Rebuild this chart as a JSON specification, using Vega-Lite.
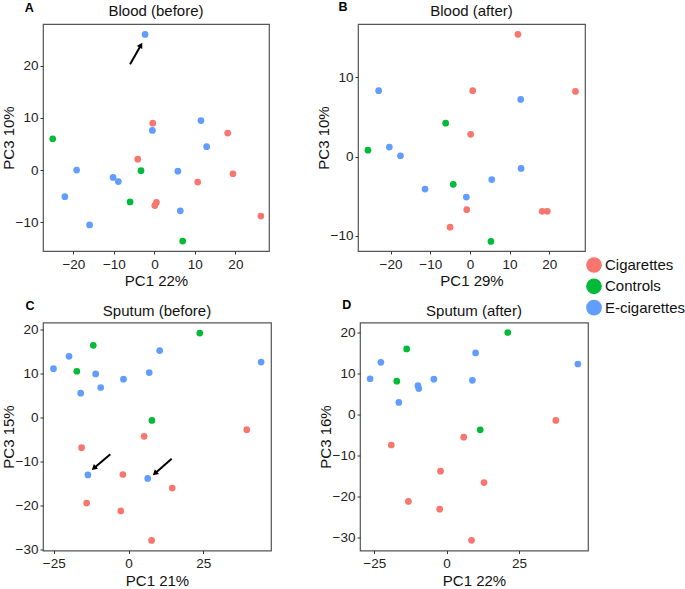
{
  "$schema": "https://vega.github.io/schema/vega-lite/v6.json",
  "padding": {"left": 0, "top": 0, "right": 0, "bottom": 0},
  "background": "white",
  "datasets": {
    "A": [
      {"pc1": -2.3, "pc3": 26.0, "group": "E-cigarettes"},
      {"pc1": 11.5, "pc3": 9.5, "group": "E-cigarettes"},
      {"pc1": -0.5, "pc3": 7.6, "group": "E-cigarettes"},
      {"pc1": 12.9, "pc3": 4.5, "group": "E-cigarettes"},
      {"pc1": -19.2, "pc3": 0.0, "group": "E-cigarettes"},
      {"pc1": -10.2, "pc3": -1.4, "group": "E-cigarettes"},
      {"pc1": -8.9, "pc3": -2.2, "group": "E-cigarettes"},
      {"pc1": 5.8, "pc3": -0.2, "group": "E-cigarettes"},
      {"pc1": -22.1, "pc3": -5.1, "group": "E-cigarettes"},
      {"pc1": 6.4, "pc3": -7.8, "group": "E-cigarettes"},
      {"pc1": -16.0, "pc3": -10.5, "group": "E-cigarettes"},
      {"pc1": -0.4, "pc3": 9.0, "group": "Cigarettes"},
      {"pc1": 18.1, "pc3": 7.1, "group": "Cigarettes"},
      {"pc1": -4.1, "pc3": 2.1, "group": "Cigarettes"},
      {"pc1": 10.7, "pc3": -2.3, "group": "Cigarettes"},
      {"pc1": 19.4, "pc3": -0.7, "group": "Cigarettes"},
      {"pc1": 0.5, "pc3": -6.2, "group": "Cigarettes"},
      {"pc1": 0.1, "pc3": -6.8, "group": "Cigarettes"},
      {"pc1": 26.3, "pc3": -8.8, "group": "Cigarettes"},
      {"pc1": -25.1, "pc3": 6.0, "group": "Controls"},
      {"pc1": -3.3, "pc3": -0.1, "group": "Controls"},
      {"pc1": -6.0, "pc3": -6.1, "group": "Controls"},
      {"pc1": 7.0, "pc3": -13.6, "group": "Controls"}
    ],
    "B": [
      {"pc1": 12.1, "pc3": 15.4, "group": "Cigarettes"},
      {"pc1": 0.7, "pc3": 8.3, "group": "Cigarettes"},
      {"pc1": 26.6, "pc3": 8.2, "group": "Cigarettes"},
      {"pc1": 0.2, "pc3": 2.8, "group": "Cigarettes"},
      {"pc1": -0.8, "pc3": -6.7, "group": "Cigarettes"},
      {"pc1": 18.2, "pc3": -6.9, "group": "Cigarettes"},
      {"pc1": 19.5, "pc3": -6.9, "group": "Cigarettes"},
      {"pc1": -5.0, "pc3": -8.9, "group": "Cigarettes"},
      {"pc1": -23.0, "pc3": 8.3, "group": "E-cigarettes"},
      {"pc1": 12.8, "pc3": 7.2, "group": "E-cigarettes"},
      {"pc1": -20.3, "pc3": 1.2, "group": "E-cigarettes"},
      {"pc1": -17.5, "pc3": 0.1, "group": "E-cigarettes"},
      {"pc1": 12.9, "pc3": -1.5, "group": "E-cigarettes"},
      {"pc1": 5.5, "pc3": -2.9, "group": "E-cigarettes"},
      {"pc1": -11.3, "pc3": -4.1, "group": "E-cigarettes"},
      {"pc1": -0.9, "pc3": -5.1, "group": "E-cigarettes"},
      {"pc1": -25.7, "pc3": 0.8, "group": "Controls"},
      {"pc1": -6.1, "pc3": 4.2, "group": "Controls"},
      {"pc1": -4.2, "pc3": -3.5, "group": "Controls"},
      {"pc1": 5.3, "pc3": -10.7, "group": "Controls"}
    ],
    "C": [
      {"pc1": -25.1, "pc3": 11.1, "group": "E-cigarettes"},
      {"pc1": -19.9, "pc3": 13.9, "group": "E-cigarettes"},
      {"pc1": -11.0, "pc3": 9.9, "group": "E-cigarettes"},
      {"pc1": -16.0, "pc3": 5.5, "group": "E-cigarettes"},
      {"pc1": -9.3, "pc3": 6.8, "group": "E-cigarettes"},
      {"pc1": -1.7, "pc3": 8.7, "group": "E-cigarettes"},
      {"pc1": 6.9, "pc3": 10.2, "group": "E-cigarettes"},
      {"pc1": 10.4, "pc3": 15.2, "group": "E-cigarettes"},
      {"pc1": 44.3, "pc3": 12.6, "group": "E-cigarettes"},
      {"pc1": -13.6, "pc3": -13.1, "group": "E-cigarettes"},
      {"pc1": 6.4, "pc3": -13.9, "group": "E-cigarettes"},
      {"pc1": -11.8, "pc3": 16.4, "group": "Controls"},
      {"pc1": -17.3, "pc3": 10.5, "group": "Controls"},
      {"pc1": 23.8, "pc3": 19.2, "group": "Controls"},
      {"pc1": 7.8, "pc3": -0.7, "group": "Controls"},
      {"pc1": 5.2, "pc3": -4.3, "group": "Cigarettes"},
      {"pc1": 39.5, "pc3": -2.8, "group": "Cigarettes"},
      {"pc1": -15.7, "pc3": -6.9, "group": "Cigarettes"},
      {"pc1": -1.9, "pc3": -13.0, "group": "Cigarettes"},
      {"pc1": 14.6, "pc3": -16.1, "group": "Cigarettes"},
      {"pc1": -14.0, "pc3": -19.5, "group": "Cigarettes"},
      {"pc1": -2.6, "pc3": -21.3, "group": "Cigarettes"},
      {"pc1": 7.7, "pc3": -28.0, "group": "Cigarettes"}
    ],
    "D": [
      {"pc1": -26.4, "pc3": 8.7, "group": "E-cigarettes"},
      {"pc1": -22.7, "pc3": 12.7, "group": "E-cigarettes"},
      {"pc1": -16.5, "pc3": 2.9, "group": "E-cigarettes"},
      {"pc1": -9.9, "pc3": 7.0, "group": "E-cigarettes"},
      {"pc1": -9.6, "pc3": 6.3, "group": "E-cigarettes"},
      {"pc1": -4.4, "pc3": 8.6, "group": "E-cigarettes"},
      {"pc1": 8.9, "pc3": 8.3, "group": "E-cigarettes"},
      {"pc1": 10.0, "pc3": 15.0, "group": "E-cigarettes"},
      {"pc1": 45.3, "pc3": 12.3, "group": "E-cigarettes"},
      {"pc1": -13.8, "pc3": 16.0, "group": "Controls"},
      {"pc1": -17.2, "pc3": 8.1, "group": "Controls"},
      {"pc1": 21.1, "pc3": 20.0, "group": "Controls"},
      {"pc1": 11.6, "pc3": -3.8, "group": "Controls"},
      {"pc1": -19.1, "pc3": -7.5, "group": "Cigarettes"},
      {"pc1": 5.9, "pc3": -5.6, "group": "Cigarettes"},
      {"pc1": 37.7, "pc3": -1.5, "group": "Cigarettes"},
      {"pc1": -2.1, "pc3": -13.9, "group": "Cigarettes"},
      {"pc1": 12.9, "pc3": -16.7, "group": "Cigarettes"},
      {"pc1": -13.2, "pc3": -21.3, "group": "Cigarettes"},
      {"pc1": -2.4, "pc3": -23.2, "group": "Cigarettes"},
      {"pc1": 8.6, "pc3": -30.8, "group": "Cigarettes"}
    ],
    "arrowA": [
      {"x0": -6.0, "y0": 20.3, "hx": -3.33, "hy": 23.95}
    ],
    "arrowC": [
      {"x0": -6.1, "y0": -8.4, "hx": -11.6, "hy": -11.57},
      {"x0": 14.4, "y0": -9.4, "hx": 8.79, "hy": -12.77}
    ]
  },
  "vconcat": [
    {
      "hconcat": [
        {
          "title": "Blood (before)",
          "width": 226, "height": 227,
          "layer": [
            {
              "data": {"name": "A"},
              "mark": {"type": "circle", "size": 45, "opacity": 1},
              "encoding": {
                "x": {"field": "pc1", "type": "quantitative", "title": "PC1 22%", "scale": {"domain": [-27.5, 28.3], "nice": false, "zero": false}, "axis": {"values": [-20, -10, 0, 10, 20]}},
                "y": {"field": "pc3", "type": "quantitative", "title": "PC3 10%", "scale": {"domain": [-15.5, 28], "nice": false, "zero": false}, "axis": {"values": [-10, 0, 10, 20]}},
                "color": {"field": "group", "type": "nominal", "scale": {"domain": ["Cigarettes", "Controls", "E-cigarettes"], "range": ["#F8766D", "#00BA38", "#619CFF"]}, "legend": {"title": null, "orient": "none", "legendX": 543, "legendY": 233, "symbolType": "circle", "symbolSize": 246, "labelFontSize": 15, "labelFont": "Liberation Sans", "labelColor": "#111", "rowPadding": 5.3, "labelOffset": 3, "symbolStrokeWidth": 0}}
              }
            },
            {
              "data": {"name": "arrowA"},
              "mark": {"type": "rule", "strokeWidth": 2, "color": "black"},
              "encoding": {"x": {"field": "x0", "type": "quantitative"}, "y": {"field": "y0", "type": "quantitative"}, "x2": {"field": "hx"}, "y2": {"field": "hy"}}
            },
            {
              "data": {"name": "arrowA"},
              "mark": {"type": "point", "shape": "triangle-up", "filled": true, "color": "black", "opacity": 1, "size": 40, "angle": 30},
              "encoding": {"x": {"field": "hx", "type": "quantitative"}, "y": {"field": "hy", "type": "quantitative"}}
            },
            {
              "data": {"values": [{"lx": -30.9, "ly": 31.1, "label": "A"}]},
              "mark": {"type": "text", "fontWeight": "bold", "fontSize": 12.5, "font": "Liberation Sans", "align": "center", "baseline": "middle", "color": "black"},
              "encoding": {"x": {"field": "lx", "type": "quantitative"}, "y": {"field": "ly", "type": "quantitative"}, "text": {"field": "label"}}
            }
          ]
        },
        {
          "title": "Blood (after)",
          "width": 227, "height": 227,
          "layer": [
            {
              "data": {"name": "B"},
              "mark": {"type": "circle", "size": 45, "opacity": 1},
              "encoding": {
                "x": {"field": "pc1", "type": "quantitative", "title": "PC1 29%", "scale": {"domain": [-28.2, 29.0], "nice": false, "zero": false}, "axis": {"values": [-20, -10, 0, 10, 20]}},
                "y": {"field": "pc3", "type": "quantitative", "title": "PC3 10%", "scale": {"domain": [-11.9, 16.7], "nice": false, "zero": false}, "axis": {"values": [-10, 0, 10]}},
                "color": {"field": "group", "type": "nominal"}
              }
            },
            {
              "data": {"values": [{"lx": -32.0, "ly": 18.8, "label": "B"}]},
              "mark": {"type": "text", "fontWeight": "bold", "fontSize": 12.5, "font": "Liberation Sans", "align": "center", "baseline": "middle", "color": "black"},
              "encoding": {"x": {"field": "lx", "type": "quantitative"}, "y": {"field": "ly", "type": "quantitative"}, "text": {"field": "label"}}
            }
          ]
        }
      ],
      "spacing": 45
    },
    {
      "hconcat": [
        {
          "title": {"text": "Sputum (before)", "offset": -19.5},
          "width": 228, "height": 228,
          "layer": [
            {
              "data": {"name": "C"},
              "mark": {"type": "circle", "size": 45, "opacity": 1},
              "encoding": {
                "x": {"field": "pc1", "type": "quantitative", "title": "PC1 21%", "scale": {"domain": [-28.6, 47.6], "nice": false, "zero": false}, "axis": {"values": [-25, 0, 25]}},
                "y": {"field": "pc3", "type": "quantitative", "title": "PC3 15%", "scale": {"domain": [-30.3, 21.6], "nice": false, "zero": false}, "axis": {"values": [-30, -20, -10, 0, 10, 20]}},
                "color": {"field": "group", "type": "nominal"}
              }
            },
            {
              "data": {"name": "arrowC"},
              "mark": {"type": "rule", "strokeWidth": 2, "color": "black"},
              "encoding": {"x": {"field": "x0", "type": "quantitative"}, "y": {"field": "y0", "type": "quantitative"}, "x2": {"field": "hx"}, "y2": {"field": "hy"}}
            },
            {
              "data": {"name": "arrowC"},
              "mark": {"type": "point", "shape": "triangle-up", "filled": true, "color": "black", "opacity": 1, "size": 40, "angle": 229},
              "encoding": {"x": {"field": "hx", "type": "quantitative"}, "y": {"field": "hy", "type": "quantitative"}}
            },
            {
              "data": {"values": [{"lx": -32.9, "ly": 25.4, "label": "C"}]},
              "mark": {"type": "text", "fontWeight": "bold", "fontSize": 12.5, "font": "Liberation Sans", "align": "center", "baseline": "middle", "color": "black"},
              "encoding": {"x": {"field": "lx", "type": "quantitative"}, "y": {"field": "ly", "type": "quantitative"}, "text": {"field": "label"}}
            }
          ]
        },
        {
          "title": {"text": "Sputum (after)", "offset": -19.5},
          "width": 228, "height": 228,
          "layer": [
            {
              "data": {"name": "D"},
              "mark": {"type": "circle", "size": 45, "opacity": 1},
              "encoding": {
                "x": {"field": "pc1", "type": "quantitative", "title": "PC1 22%", "scale": {"domain": [-29.9, 48.8], "nice": false, "zero": false}, "axis": {"values": [-25, 0, 25]}},
                "y": {"field": "pc3", "type": "quantitative", "title": "PC3 16%", "scale": {"domain": [-33.3, 22.45], "nice": false, "zero": false}, "axis": {"values": [-30, -20, -10, 0, 10, 20]}},
                "color": {"field": "group", "type": "nominal"}
              }
            },
            {
              "data": {"values": [{"lx": -34.5, "ly": 26.7, "label": "D"}]},
              "mark": {"type": "text", "fontWeight": "bold", "fontSize": 12.5, "font": "Liberation Sans", "align": "center", "baseline": "middle", "color": "black"},
              "encoding": {"x": {"field": "lx", "type": "quantitative"}, "y": {"field": "ly", "type": "quantitative"}, "text": {"field": "label"}}
            }
          ]
        }
      ],
      "spacing": 45
    }
  ],
  "spacing": 8.5,
  "config": {
    "view": {"stroke": "#555555", "strokeWidth": 1.2},
    "axis": {"grid": false, "domain": false, "tickColor": "#333", "tickSize": 3, "labelFontSize": 13.5, "labelColor": "#222", "labelFont": "Liberation Sans", "titleFont": "Liberation Sans", "titleFontSize": 15, "titleFontWeight": "normal", "titleColor": "#111"},
    "axisX": {"labelPadding": 3, "titlePadding": 3},
    "axisY": {"labelPadding": 2, "titlePadding": -1},
    "title": {"fontSize": 15, "fontWeight": "normal", "font": "Liberation Sans", "color": "#111", "offset": -17.5, "frame": "group"}
  }
}
